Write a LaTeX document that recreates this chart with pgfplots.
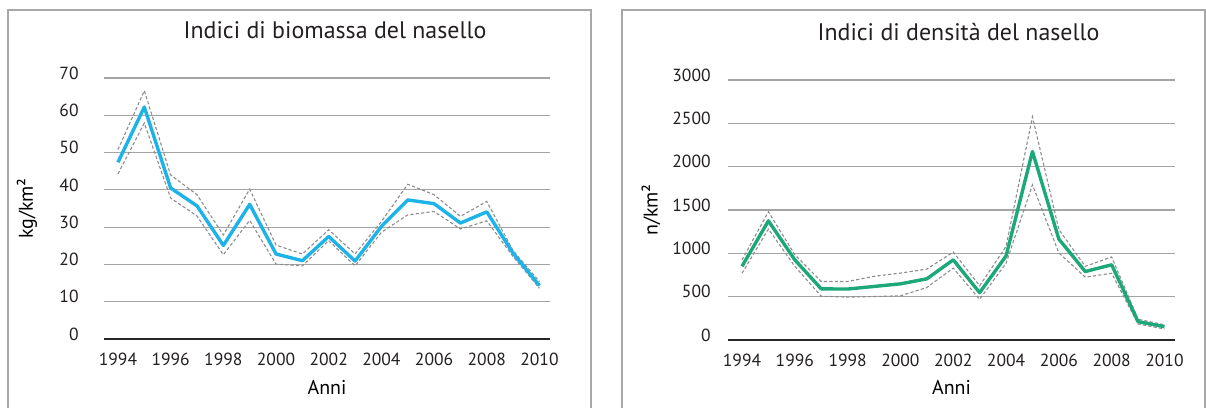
\documentclass[border=0pt]{standalone}
\usepackage{pgfplots}
\pgfplotsset{compat=1.18}
\usepackage{fontspec}
\setmainfont{PT Sans}
\definecolor{bioblue}{HTML}{1DB2E8}
\definecolor{dengreen}{HTML}{1CA878}
\definecolor{gridc}{HTML}{A4A4A4}
\definecolor{framec}{HTML}{A8A8A8}
\definecolor{dashc}{HTML}{8C8C8C}
\definecolor{txt}{HTML}{231F20}

\pgfplotstableread{
year val up lo
1994 47.4 50.8 44.3
1995 62.2 66.6 57.9
1996 40.5 44.0 37.8
1997 35.7 38.7 33.0
1998 25.1 27.9 22.6
1999 36.1 40.2 31.8
2000 22.8 25.2 20.1
2001 21.0 22.8 19.6
2002 27.5 29.3 26.4
2003 20.9 22.8 19.6
2004 30.2 31.5 28.6
2005 37.3 41.5 33.3
2006 36.3 38.7 34.2
2007 31.1 32.9 29.5
2008 34.1 36.9 31.7
2009 23.0 23.7 22.1
2010 14.3 15.4 13.6
}\biomass

\pgfplotstableread{
year val up lo
1994 850 923 770
1995 1375 1480 1280
1996 925 985 850
1997 590 675 505
1998 588 675 495
1999 618 735 502
2000 648 772 510
2001 706 818 606
2002 925 1015 830
2003 546 625 470
2004 970 1080 885
2005 2175 2575 1790
2006 1165 1275 1005
2007 790 850 725
2008 868 958 770
2009 212 240 185
2010 154 175 127
}\density

\pgfplotsset{
  panel/.style={
    scale only axis,
    xmin=1993.47, xmax=2010.4,
    xtick={1994,1996,...,2010},
    axis line style={draw=none},
    major tick length=0pt,
    ymajorgrids,
    grid style={gridc, line width=0.6bp},
    extra y tick style={grid style={black!85, line width=1.2bp}},
    /pgf/number format/1000 sep={},
    /pgf/number format/assume math mode=true,
    tick label style={font=\fontsize{8.8}{10}\selectfont, text=txt},
    xticklabel style={anchor=base, yshift=-13bp},
    yticklabel style={anchor=east, inner sep=0pt, yshift=2.5bp},
    title style={font=\fontsize{12}{14}\selectfont, text=txt, at={(0.5,1)}, anchor=center, yshift=18bp},
    label style={font=\fontsize{8.8}{10}\selectfont, text=txt},
    every axis y label/.style={at={(axis description cs:-0.1726,0.5)}, rotate=90, anchor=center},
    every axis x label/.style={at={(axis description cs:0.5,-0.184)}, anchor=center},
    clip=false,
  },
  mainline/.style={line width=1.7bp, line join=round, no markers},
  bound/.style={dashc, line width=0.55bp, dash pattern=on 1.6bp off 1.1bp, no markers},
}

\begin{document}
\begin{tikzpicture}[x=1bp,y=1bp]
\path[use as bounding box] (0,0) rectangle (603,203.5);
\draw[framec, line width=0.6bp] (4,-2) -- (4,198.5) -- (295.5,198.5) -- (295.5,-2);
\draw[framec, line width=0.6bp] (311,-2) -- (311,198.5) -- (602.5,198.5) -- (602.5,-2);

\begin{axis}[panel,
  at={(52bp,34bp)}, anchor=south west,
  width=223bp, height=130.5bp,
  ymin=0, ymax=70, ytick={10,20,...,70},
  extra y ticks={0},
  yticklabel style={xshift=-12.5bp},
  title={Indici di biomassa del nasello},
  title style={xshift=4bp},
  ylabel={kg/km²}, xlabel={Anni}]
\addplot[bound] table[x=year,y=up] {\biomass};
\addplot[bound] table[x=year,y=lo] {\biomass};
\addplot[mainline, bioblue] table[x=year,y=val] {\biomass};
\end{axis}

\begin{axis}[panel,
  at={(364bp,33.5bp)}, anchor=south west,
  width=223.5bp, height=130bp,
  ymin=0, ymax=3000, ytick={500,1000,...,3000},
  extra y ticks={0},
  yticklabel style={xshift=-8.5bp},
  title={Indici di densità del nasello},
  title style={xshift=3.5bp},
  ylabel={n/km²}, xlabel={Anni}]
\addplot[bound] table[x=year,y=up] {\density};
\addplot[bound] table[x=year,y=lo] {\density};
\addplot[mainline, dengreen] table[x=year,y=val] {\density};
\end{axis}
\end{tikzpicture}
\end{document}
